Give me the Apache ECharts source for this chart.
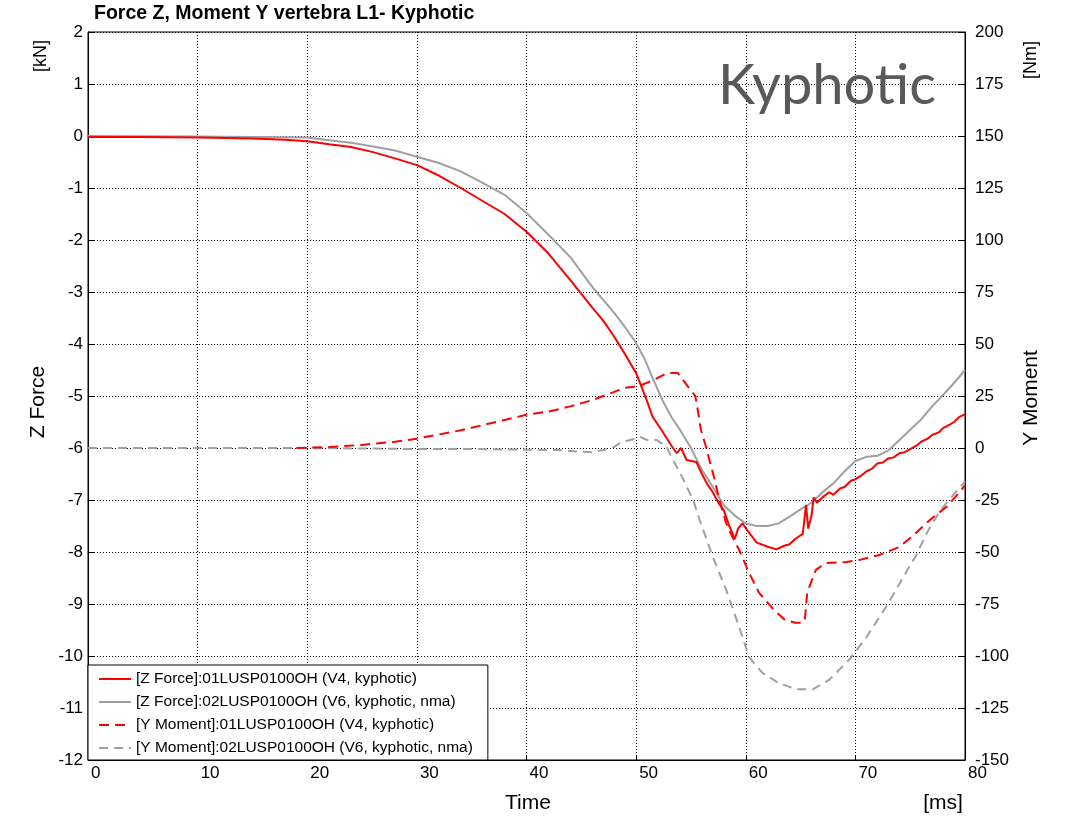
<!DOCTYPE html>
<html>
<head>
<meta charset="utf-8">
<script src="https://cdn.jsdelivr.net/npm/echarts@6/dist/echarts.min.js"></script>
<style>
  html, body { margin: 0; padding: 0; background: #fff; }
  #chart { width: 1066px; height: 820px; }
</style>
</head>
<body>
<div id="chart"></div>
<script>
// Time axis ticks and value-axis ranges
const timeTicks = [0, 10, 20, 30, 40, 50, 60, 70, 80];
const forceRange = [-12, 2];     // kN
const momentRange = [-150, 200]; // Nm

const seriesNames = [
  '[Z Force]:01LUSP0100OH (V4, kyphotic)',
  '[Z Force]:02LUSP0100OH (V6, kyphotic, nma)',
  '[Y Moment]:01LUSP0100OH (V4, kyphotic)',
  '[Y Moment]:02LUSP0100OH (V6, kyphotic, nma)'
];

// [time ms, force kN]
const forceV4 = [
  [0,-0.02],[5,-0.02],[10,-0.03],[15,-0.05],[18,-0.07],[20,-0.1],[22,-0.16],[24,-0.21],
  [26,-0.31],[28,-0.43],[30,-0.56],[32,-0.76],[34,-1.0],[36,-1.25],[38,-1.5],[40,-1.84],
  [42,-2.26],[44,-2.77],[46,-3.3],[47,-3.55],[48,-3.86],[49,-4.2],[50,-4.56],[51,-5.1],
  [51.5,-5.4],[52.3,-5.65],[53.3,-5.98],[53.7,-6.1],[54.1,-6.0],[54.6,-6.23],[55.5,-6.27],
  [56,-6.5],[56.5,-6.7],[57,-6.85],[57.5,-7.05],[58,-7.2],[58.5,-7.5],[59,-7.75],[59.3,-7.55],
  [59.7,-7.45],[60.2,-7.6],[61,-7.82],[62,-7.9],[62.8,-7.95],[63.5,-7.88],[64,-7.85],
  [64.5,-7.75],[65.2,-7.65],[65.5,-7.1],[65.7,-7.55],[66,-7.3],[66.2,-6.95],[66.5,-7.05],
  [67,-6.95],[67.6,-6.85],[68,-6.9],[68.6,-6.78],[69,-6.75],[69.6,-6.63],[70,-6.6],
  [70.6,-6.52],[71,-6.45],[71.5,-6.4],[72,-6.3],[72.5,-6.28],[73,-6.2],[73.5,-6.18],
  [74,-6.1],[74.5,-6.08],[75,-6.02],[75.6,-5.95],[76,-5.88],[76.6,-5.82],[77,-5.75],
  [77.6,-5.7],[78,-5.62],[78.6,-5.55],[79,-5.5],[79.5,-5.4],[80,-5.35]
];
const forceV6 = [
  [0,0],[10,-0.01],[15,-0.02],[20,-0.03],[22,-0.08],[24,-0.13],[26,-0.2],[28,-0.28],
  [30,-0.4],[32,-0.52],[34,-0.68],[36,-0.9],[38,-1.13],[40,-1.48],[42,-1.9],[44,-2.33],
  [46,-2.9],[48,-3.4],[49,-3.68],[50,-3.98],[50.8,-4.3],[51.6,-4.7],[52.4,-5.08],[53.2,-5.4],
  [54,-5.65],[55,-6.0],[56,-6.42],[57,-6.75],[58,-7.1],[59,-7.3],[60,-7.45],[61,-7.5],[62,-7.5],
  [63,-7.45],[64,-7.32],[65,-7.18],[66,-7.05],[67,-6.85],[68,-6.68],[69,-6.45],[70,-6.25],
  [71,-6.17],[72,-6.15],[73,-6.05],[74,-5.85],[75,-5.65],[76,-5.45],[77,-5.2],[78,-4.98],
  [79,-4.75],[80,-4.5]
];
// [time ms, moment Nm]
const momentV4 = [
  [19,0],[22,0.5],[25,1.5],[28,3],[30,4.5],[32,6.5],[34,8.5],[36,11],[38,13.5],[40,16],
  [42,17.5],[44,20],[46,23],[48,27],[48.8,28.8],[49.8,29.5],[50.5,30.3],[51.7,33],[52.8,36],
  [53.8,36],[54.1,34],[54.8,29],[55.4,25],[55.6,19],[55.9,9],[56.4,0],[57.1,-14],[57.6,-25],
  [58.2,-36],[58.8,-43],[59.4,-49],[60.3,-60],[61.2,-69.5],[62.6,-78],[63.6,-82.7],
  [64.5,-84],[65.2,-84],[65.4,-82],[65.6,-70],[65.8,-66.8],[66.4,-58.6],[67.3,-55.3],
  [69.2,-54.8],[70.4,-53.8],[72.2,-51.4],[74,-47.6],[75.3,-42],[76.5,-36],[77.4,-32],
  [78.3,-28.4],[79.2,-23],[80,-18]
];
const momentV6 = [
  [0,0],[10,0],[20,0],[30,-0.5],[35,-0.5],[40,-0.8],[43,-1],[45,-1.8],[46,-2],[47,-1],
  [48,0.5],[48.5,2.4],[50.4,5.3],[51,3.8],[51.9,3.8],[52.8,0.5],[53.2,-4.3],[53.7,-9],
  [54.2,-14],[55.2,-25],[55.8,-34.6],[57,-52.4],[58.2,-68],[59.4,-86],[60.3,-100.5],
  [61.5,-108],[63,-113],[64.6,-116],[66.1,-116],[67.6,-111.5],[69.4,-102],[71,-91],
  [72.8,-76.4],[74.6,-60],[75.5,-52],[76.5,-41],[77.4,-33],[78.3,-26.4],[79.2,-21],[80,-16]
];

const RED = '#ff0000';
const GRAY = '#a0a0a0';
const FONT = '"Liberation Sans", Arial, sans-serif';
const TICK_SIZE = 17;

const chart = echarts.init(document.getElementById('chart'), null, { renderer: 'canvas' });

const gridDots = { show: true, lineStyle: { color: '#000', width: 1, type: [1, 2] } };

chart.setOption({
  animation: false,
  backgroundColor: '#fff',
  textStyle: { fontFamily: FONT },
  grid: { left: 88, right: 101, top: 32, bottom: 60, show: true, borderColor: '#000', borderWidth: 1 },
  xAxis: {
    type: 'value',
    min: timeTicks[0], max: timeTicks[timeTicks.length - 1], interval: 10,
    axisLine: { show: true, onZero: false, lineStyle: { color: '#000' } },
    axisTick: { show: true, inside: true, length: 5, lineStyle: { color: '#000' } },
    axisLabel: { color: '#000', fontSize: TICK_SIZE, fontFamily: FONT, margin: 5, align: 'left', padding: [0, 0, 0, 3] },
    splitLine: gridDots
  },
  yAxis: [
    {
      type: 'value', position: 'left',
      min: forceRange[0], max: forceRange[1], interval: 1,
      axisLine: { show: true, onZero: false, lineStyle: { color: '#000' } },
      axisTick: { show: true, inside: true, length: 6, lineStyle: { color: '#000' } },
      axisLabel: { color: '#000', fontSize: TICK_SIZE, fontFamily: FONT, margin: 5, padding: [0, 0, 19, 0] },
      splitLine: gridDots
    },
    {
      type: 'value', position: 'right',
      min: momentRange[0], max: momentRange[1], interval: 25,
      axisLine: { show: true, onZero: false, lineStyle: { color: '#000' } },
      axisTick: { show: true, inside: true, length: 6, lineStyle: { color: '#000' } },
      axisLabel: { color: '#000', fontSize: TICK_SIZE, fontFamily: FONT, margin: 10, padding: [0, 0, 19, 0] },
      splitLine: { show: false }
    }
  ],
  legend: {
    left: 88, top: 665,
    orient: 'vertical',
    selectedMode: false,
    backgroundColor: '#fff',
    borderColor: '#000', borderWidth: 1,
    padding: [6, 15, 4, 10],
    itemWidth: 32, itemHeight: 14, itemGap: 7, itemTextGap: 8,
    itemStyle: { opacity: 0, borderWidth: 0 },
    textStyle: { color: '#000', fontSize: 15.5, fontFamily: FONT },
    data: seriesNames
  },
  series: [
    { name: seriesNames[0], type: 'line', yAxisIndex: 0, data: forceV4, showSymbol: false, symbol: 'none',
      lineStyle: { color: RED, width: 2 }, itemStyle: { color: RED }, z: 4 },
    { name: seriesNames[1], type: 'line', yAxisIndex: 0, data: forceV6, showSymbol: false, symbol: 'none',
      lineStyle: { color: GRAY, width: 2 }, itemStyle: { color: GRAY }, z: 3 },
    { name: seriesNames[2], type: 'line', yAxisIndex: 1, data: momentV4, showSymbol: false, symbol: 'none',
      lineStyle: { color: RED, width: 2, type: [10, 6] }, itemStyle: { color: RED }, z: 4 },
    { name: seriesNames[3], type: 'line', yAxisIndex: 1, data: momentV6, showSymbol: false, symbol: 'none',
      lineStyle: { color: GRAY, width: 2, type: [9, 6] }, itemStyle: { color: GRAY }, z: 3 }
  ],
  graphic: [
    { type: 'text', left: 94, top: 4,
      style: { text: 'Force Z, Moment Y vertebra L1- Kyphotic', font: 'bold 19.5px ' + FONT, fill: '#000' } },
    { type: 'text', x: 827, y: 86, z: 10,
      style: { text: 'Kyphotic', font: '56px Lato, "Open Sans", sans-serif', fill: '#595959', align: 'center', verticalAlign: 'middle' } },
    { type: 'text', x: 41, y: 56, rotation: Math.PI / 2,
      style: { text: '[kN]', font: '18px ' + FONT, fill: '#000', align: 'center', verticalAlign: 'middle' } },
    { type: 'text', x: 38, y: 402, rotation: Math.PI / 2,
      style: { text: 'Z Force', font: '21px ' + FONT, fill: '#000', align: 'center', verticalAlign: 'middle' } },
    { type: 'text', x: 1031, y: 60, rotation: Math.PI / 2,
      style: { text: '[Nm]', font: '18px ' + FONT, fill: '#000', align: 'center', verticalAlign: 'middle' } },
    { type: 'text', x: 1031, y: 398, rotation: Math.PI / 2,
      style: { text: 'Y Moment', font: '21px ' + FONT, fill: '#000', align: 'center', verticalAlign: 'middle' } },
    { type: 'text', x: 528, y: 803,
      style: { text: 'Time', font: '21px ' + FONT, fill: '#000', align: 'center', verticalAlign: 'middle' } },
    { type: 'text', x: 943, y: 803,
      style: { text: '[ms]', font: '21px ' + FONT, fill: '#000', align: 'center', verticalAlign: 'middle' } }
  ]
});
</script>
</body>
</html>
